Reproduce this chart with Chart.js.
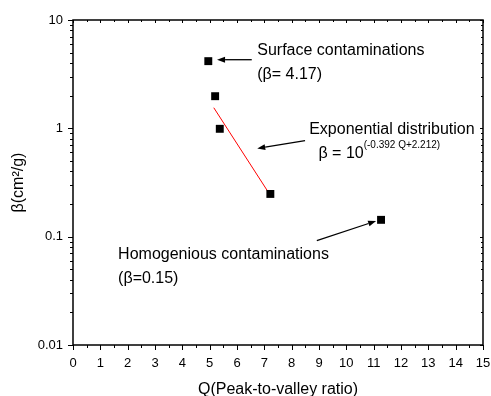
<!DOCTYPE html>
<html><head><meta charset="utf-8">
<script src="https://cdn.jsdelivr.net/npm/chart.js@4.4.1/dist/chart.umd.min.js"></script>
<style>html,body{margin:0;padding:0;background:#fff;}</style>
</head><body>
<canvas id="c" width="491" height="396" style="width:491px;height:396px;display:block"></canvas>
<script>
// ---- data ----
const qValues = [4.95, 5.2, 5.37, 7.22, 11.27];
const betaValues = [4.17, 1.98, 0.99, 0.248, 0.143];
const fitQ = [5.15, 7.2];
const fitBeta = [1.55, 0.245];
const xTickValues = [0,1,2,3,4,5,6,7,8,9,10,11,12,13,14,15];
const yDecades = [0.01, 0.1, 1, 10];
const yTickLabels = ['0.01', '0.1', '1', '10'];
const xTitle = 'Q(Peak-to-valley ratio)';
const yTitle = 'β(cm²/g)';

// annotation anchors in data coordinates
const noteTexts = [
  {q: 6.74, b: 5.24, text: 'Surface contaminations'},
  {q: 6.74, b: 3.14, text: '(β= 4.17)'},
  {q: 8.64, b: 0.97, text: 'Exponential distribution'},
  {q: 1.65, b: 0.069, text: 'Homogenious contaminations'},
  {q: 1.65, b: 0.0406, text: '(β=0.15)'}
];
const formula = {q: 8.98, b: 0.59, main: 'β = 10', sup: '(-0.392 Q+2.212)'};
const arrows = [
  {q1: 6.54, b1: 4.3, q2: 5.27, b2: 4.3},
  {q1: 8.49, b1: 0.769, q2: 6.74, b2: 0.653},
  {q1: 8.92, b1: 0.0918, q2: 11.09, b2: 0.1396}
];

const FONT = "'Liberation Sans', Arial, sans-serif";

const yTickValues = [];
yDecades.forEach((d, i) => {
  if (i === yDecades.length - 1) { yTickValues.push(d); return; }
  for (let k = 1; k <= 9; k++) yTickValues.push(+(k * d).toPrecision(3));
});

const decoPlugin = {
  id: 'deco',
  afterDraw(chart) {
    const ctx = chart.ctx;
    const xs = chart.scales.x, ys = chart.scales.y;
    const a = chart.chartArea;
    ctx.save();
    ctx.strokeStyle = '#000';
    ctx.fillStyle = '#000';
    // frame
    ctx.lineWidth = 1.5;
    ctx.strokeRect(a.left, a.top, a.right - a.left, a.bottom - a.top);
    ctx.lineWidth = 1;
    ctx.beginPath();
    // x ticks
    for (let v = 0; v <= 15.001; v += 0.5) {
      const px = Math.round(xs.getPixelForValue(v)) + 0.5;
      const major = Math.abs(v - Math.round(v)) < 1e-6;
      const L = major ? 5 : 3;
      ctx.moveTo(px, a.bottom); ctx.lineTo(px, a.bottom + L);
      ctx.moveTo(px, a.top); ctx.lineTo(px, a.top + (major ? 3 : 2));
    }
    // y ticks
    yTickValues.forEach(v => {
      const py = Math.round(ys.getPixelForValue(v)) + 0.5;
      const major = yDecades.includes(v);
      const L = major ? 5 : 3;
      ctx.moveTo(a.left, py); ctx.lineTo(a.left - L, py);
      ctx.moveTo(a.right, py); ctx.lineTo(a.right - (major ? 3 : 2), py);
    });
    ctx.stroke();

    // arrows
    arrows.forEach(ar => {
      const x1 = xs.getPixelForValue(ar.q1), y1 = ys.getPixelForValue(ar.b1);
      const x2 = xs.getPixelForValue(ar.q2), y2 = ys.getPixelForValue(ar.b2);
      const ang = Math.atan2(y2 - y1, x2 - x1);
      const hl = 8, hw = 3;
      const bx = x2 - hl * Math.cos(ang), by = y2 - hl * Math.sin(ang);
      ctx.lineWidth = 1.3;
      ctx.beginPath(); ctx.moveTo(x1, y1); ctx.lineTo(bx, by); ctx.stroke();
      ctx.beginPath();
      ctx.moveTo(x2, y2);
      ctx.lineTo(bx + hw * Math.sin(ang), by - hw * Math.cos(ang));
      ctx.lineTo(bx - hw * Math.sin(ang), by + hw * Math.cos(ang));
      ctx.closePath(); ctx.fill();
    });

    // texts
    ctx.font = '16px ' + FONT;
    ctx.textBaseline = 'middle';
    ctx.textAlign = 'left';
    noteTexts.forEach(t => {
      ctx.fillText(t.text, xs.getPixelForValue(t.q), ys.getPixelForValue(t.b));
    });
    const fx = xs.getPixelForValue(formula.q), fy = ys.getPixelForValue(formula.b);
    ctx.fillText(formula.main, fx, fy);
    const w = ctx.measureText(formula.main).width;
    ctx.font = '10px ' + FONT;
    ctx.fillText(formula.sup, fx + w, fy - 8);
    ctx.restore();
  }
};

new Chart(document.getElementById('c'), {
  type: 'scatter',
  data: {
    datasets: [
      {
        type: 'line',
        data: fitQ.map((q, i) => ({x: q, y: fitBeta[i]})),
        borderColor: '#ff0000',
        borderWidth: 1,
        pointRadius: 0,
        fill: false,
        order: 2
      },
      {
        data: qValues.map((q, i) => ({x: q, y: betaValues[i]})),
        pointStyle: 'rect',
        pointRadius: 5.6,
        pointHoverRadius: 5.6,
        backgroundColor: '#000',
        borderColor: '#000',
        borderWidth: 0,
        order: 1
      }
    ]
  },
  options: {
    responsive: false,
    devicePixelRatio: 1,
    animation: false,
    events: [],
    layout: {padding: {left: 0, top: 20, right: 8, bottom: 0}},
    plugins: {legend: {display: false}, tooltip: {enabled: false}},
    scales: {
      x: {
        type: 'linear', min: 0, max: 15,
        afterBuildTicks: s => { s.ticks = xTickValues.map(v => ({value: v})); },
        ticks: {font: {family: FONT, size: 13}, color: '#000', padding: 11, maxRotation: 0, autoSkip: false,
          callback: v => String(v)},
        grid: {display: false, drawTicks: false},
        border: {display: false},
        title: {display: true, text: xTitle, color: '#000', font: {family: FONT, size: 16}, padding: {top: 0, bottom: -3}},
        afterFit: s => { s.height = 51; s.paddingLeft = 0; s.paddingRight = 0; }
      },
      y: {
        type: 'logarithmic', min: 0.01, max: 10,
        afterBuildTicks: s => { s.ticks = yTickValues.map(v => ({value: v})); },
        ticks: {font: {family: FONT, size: 13}, color: '#000', padding: 10, autoSkip: false,
          callback: v => { const i = yDecades.indexOf(v); return i >= 0 ? yTickLabels[i] : ''; }},
        grid: {display: false, drawTicks: false},
        border: {display: false},
        title: {display: true, text: yTitle, color: '#000', font: {family: FONT, size: 16}, padding: {top: 9, bottom: 0}},
        afterFit: s => { s.width = 73; s.paddingTop = 0; s.paddingBottom = 0; }
      }
    }
  },
  plugins: [decoPlugin]
});
</script>
</body></html>
